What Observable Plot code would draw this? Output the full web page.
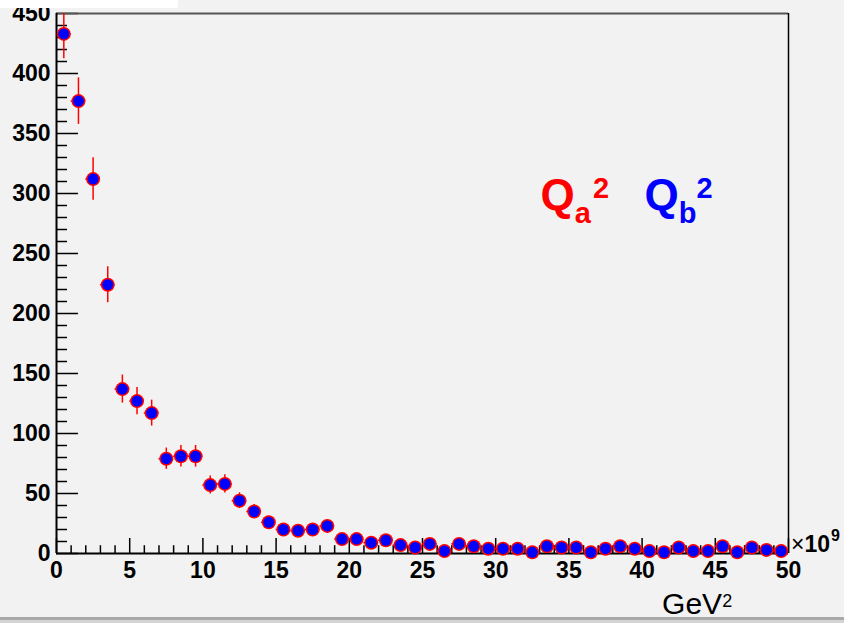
<!DOCTYPE html>
<html><head><meta charset="utf-8">
<script src="https://cdn.jsdelivr.net/npm/d3@7"></script>
<script src="https://cdn.jsdelivr.net/npm/@observablehq/plot@0.6"></script>
<style>
html,body{margin:0;padding:0;background:#f2f2f2;}
#wrap{position:relative;width:844px;height:623px;overflow:hidden;}
#whitebox{position:absolute;left:0;top:0;width:178px;height:8px;background:#fff;z-index:2;border-bottom-right-radius:2px;}
#band{position:absolute;left:0;top:617px;width:844px;height:6px;background:linear-gradient(#a9a9a9 0 3px,#d4d4d4 3px);z-index:2;}
svg{display:block;}
</style></head><body><div id="wrap"><div id="whitebox"></div><div id="band"></div></div>
<script>
// Bin centres (GeV^2, ×10^9)
const binCenters = [0.5,1.5,2.5,3.5,4.5,5.5,6.5,7.5,8.5,9.5,10.5,11.5,12.5,13.5,14.5,15.5,16.5,17.5,18.5,19.5,
  20.5,21.5,22.5,23.5,24.5,25.5,26.5,27.5,28.5,29.5,30.5,31.5,32.5,33.5,34.5,35.5,36.5,37.5,38.5,39.5,
  40.5,41.5,42.5,43.5,44.5,45.5,46.5,47.5,48.5,49.5];
// Bin contents
const counts = [433,377,312,224,137,127,117,79,81,81,57,58,44,35,26,20,19,20,23,12,
  12,9,11,7,5,8,2,8,6,4,4,4,1,6,5,5,1,4,6,4,
  2,1,5,2,2,6,1,5,3,2];
// Error bars (half-lengths)
const errors = [20.8,19.4,17.7,15,11.7,11.3,10.8,8.9,9,9,7.5,7.6,6.6,5.9,5.1,4.5,4.4,4.5,4.8,3.5,
  3.5,3,3.3,2.6,2.2,2.8,1.4,2.8,2.4,2,2,2,1,2.4,2.2,2.2,1,2,2.4,2,
  1.4,1,2.2,1.4,1.4,2.4,1,2.2,1.7,1.4];
// Axis ticks
const xMajor = [0,5,10,15,20,25,30,35,40,45,50];
const xMinor = [1,2,3,4,6,7,8,9,11,12,13,14,16,17,18,19,21,22,23,24,26,27,28,29,31,32,33,34,36,37,38,39,41,42,43,44,46,47,48,49];
const yMajor = [0,50,100,150,200,250,300,350,400,450];
const yMinor = [10,20,30,40,60,70,80,90,110,120,130,140,160,170,180,190,210,220,230,240,260,270,280,290,310,320,330,340,360,370,380,390,410,420,430,440];
const xUnitLabel = "GeV";
const xScaleLabel = "×10";
const seriesLabels = [{q: "Q", sub: "a", color: "red", x: 33.1}, {q: "Q", sub: "b", color: "blue", x: 40.2}];

const data = binCenters.map((c, i) => ({c, v: counts[i], e: errors[i]}));
const FONT = "'Liberation Sans', Arial, Helvetica, sans-serif";

const plot = Plot.plot({
  width: 844, height: 623,
  marginLeft: 56, marginRight: 56, marginTop: 13, marginBottom: 70,
  style: {background: "#f2f2f2", fontFamily: FONT, overflow: "visible", color: "#000"},
  x: {domain: [0, 50], axis: null},
  y: {domain: [0, 450], axis: null},
  marks: [
    Plot.ruleY(yMinor, {y: d => d, x1: 0, x2: 0.75, stroke: "#000", strokeWidth: 1.5}),
    Plot.ruleY(yMajor, {y: d => d, x1: 0, x2: 1.5, stroke: "#000", strokeWidth: 1.5}),
    Plot.ruleX(xMinor, {x: d => d, y1: 0, y2: 6.5, stroke: "#000", strokeWidth: 1.5}),
    Plot.ruleX(xMajor, {x: d => d, y1: 0, y2: 12.5, stroke: "#000", strokeWidth: 1.5}),
    Plot.axisY(yMajor, {tickSize: 0, tickPadding: 6, fontSize: 23, fontWeight: "bold", fill: "#000", stroke: "#000", strokeWidth: 0.5, label: null}),
    Plot.axisX(xMajor, {tickSize: 0, tickPadding: 8, fontSize: 23, fontWeight: "bold", fill: "#000", stroke: "#000", strokeWidth: 0.5, label: null}),
    Plot.ruleY([450], {stroke: "#555", strokeWidth: 2}),
    Plot.ruleX([50], {stroke: "#000", strokeWidth: 1.5}),
    Plot.ruleX(data, {x: "c", y1: d => d.v - d.e, y2: d => d.v + d.e, stroke: "red", strokeWidth: 1.5, clip: true}),
    Plot.ruleY(data, {y: "v", x1: d => d.c - 0.5, x2: d => d.c + 0.5, stroke: "red", strokeWidth: 1.5}),
    Plot.ruleX([0], {stroke: "#000", strokeWidth: 2}),
    Plot.ruleY([0], {stroke: "#000", strokeWidth: 2}),
    Plot.dot(data, {x: "c", y: "v", r: 7, fill: "red"}),
    Plot.dot(data, {x: "c", y: "v", r: 5.5, fill: "blue"})
  ]
});

const svg = d3.select(plot);
const X = v => plot.scale("x").apply(v);
const Y = v => plot.scale("y").apply(v);

// Series labels Qa^2, Qb^2
for (const s of seriesLabels) {
  const t = svg.append("text").attr("x", X(s.x)).attr("y", Y(286)).attr("text-anchor", "start")
    .attr("fill", s.color).attr("font-weight", "bold").attr("font-family", FONT).attr("font-size", 44).text(s.q);
  t.append("tspan").attr("font-size", 29).attr("dy", 13).text(s.sub);
  t.append("tspan").attr("font-size", 29).attr("dy", -25).attr("dx", s.sub === "a" ? 2 : 0).text("2");
}

// ×10^9 exponent label
const e = svg.append("text").attr("x", X(50) + 3).attr("y", Y(0) - 1).attr("text-anchor", "start")
  .attr("font-family", FONT).attr("font-size", 23).attr("fill", "#000");
e.append("tspan").attr("font-weight", "normal").text(xScaleLabel.slice(0, 1));
e.append("tspan").attr("font-weight", "bold").text(xScaleLabel.slice(1));
e.append("tspan").attr("font-weight", "bold").attr("font-size", 16).attr("dy", -11).attr("dx", 1).text("9");

// GeV^2 axis title
const g = svg.append("text").attr("x", X(41.4)).attr("y", Y(0) + 61).attr("text-anchor", "start")
  .attr("font-family", FONT).attr("font-size", 30).attr("fill", "#000").text(xUnitLabel);
g.append("tspan").attr("font-size", 18).attr("dy", -7).text("2");

document.getElementById("wrap").appendChild(plot);
</script>
</body></html>
